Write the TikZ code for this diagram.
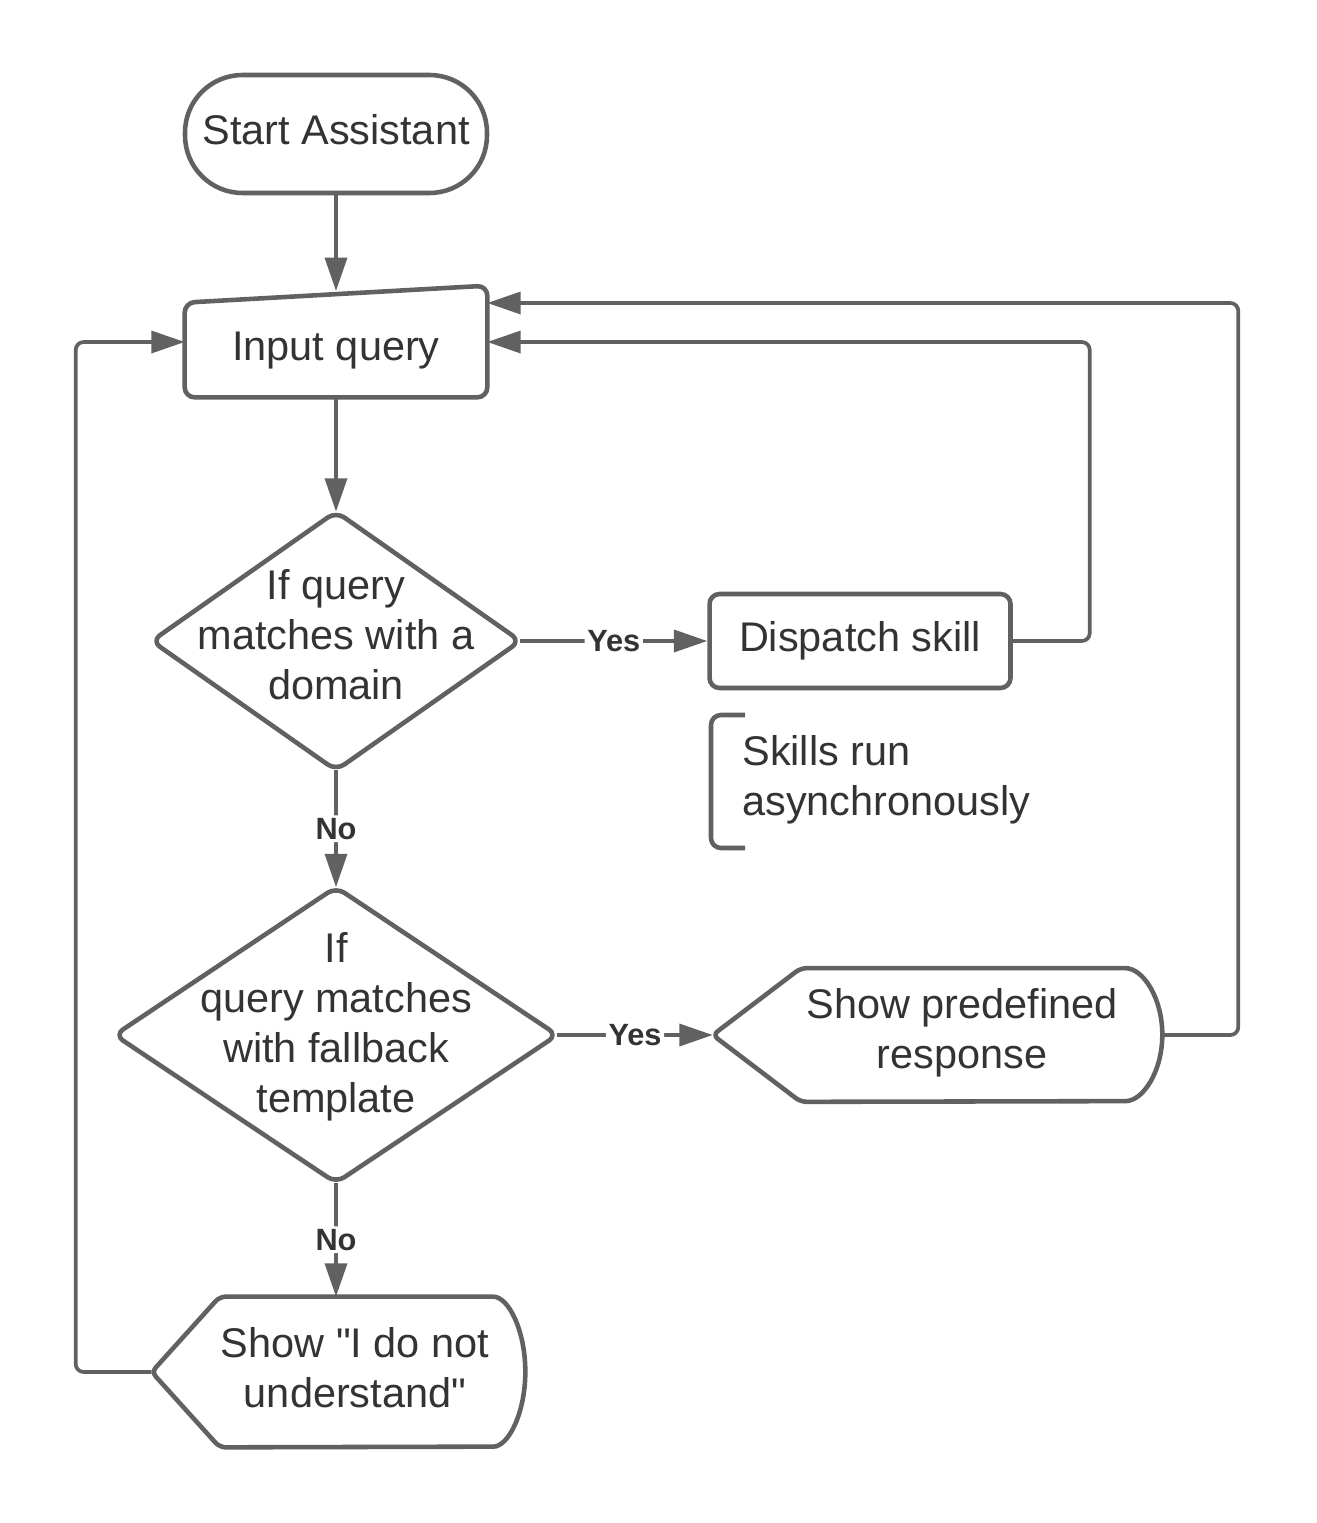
\documentclass[tikz,border=0pt]{standalone}
\usepackage{fontspec}
\setmainfont{Liberation Sans}[Ligatures=TeXOff]
\usetikzlibrary{arrows.meta,calc}
\definecolor{LineClr}{HTML}{616161}
\definecolor{TextClr}{HTML}{333333}

\begin{document}
\begin{tikzpicture}[x=0.02cm,y=-0.02cm,
  font=\fontsize{23.6}{28.5}\selectfont,text=TextClr,
  shapeline/.style={line width=2.6pt,draw=LineClr,line join=round},
  box/.style={inner sep=0pt,align=center},
  flow/.style={line width=2.1pt,draw=LineClr,rounded corners=0.16cm,-{Triangle[length=19pt,width=12.5pt]}},
  answer/.style={font=\fontsize{17.5}{20}\selectfont\bfseries,fill=white,inner sep=1.5pt}]

\useasboundingbox (0,0) rectangle (1316,1523);

\node (start) [box,draw=LineClr,line width=2.6pt,rounded corners=1.15cm,minimum width=6.04cm,minimum height=2.36cm] at (336,134) {};
\node (starttext) [box] at (336,130) {Start Assistant};

\node (in) [box,minimum width=6.04cm,minimum height=1.88cm] at (336,350) {};
\node (intext) [box] at (336,351) {Input query};
\draw[shapeline,rounded corners=0.2cm] (in.south west) -- (in.north west) -- ([yshift=0.34cm]in.north east) -- (in.south east) -- cycle;
\coordinate (intop) at (336,291);

\node (d1) [box,minimum width=7.36cm,minimum height=5.16cm] at (336,641) {};
\node (d1text) [box] at (336,635) {If query\\matches with a\\domain};
\draw[shapeline,rounded corners=0.2cm] (d1.north) -- (d1.east) -- (d1.south) -- (d1.west) -- cycle;

\node (disp) [box,draw=LineClr,line width=2.6pt,rounded corners=0.2cm,minimum width=6.02cm,minimum height=1.88cm] at (860,641) {Dispatch skill};

\node (note) [box,align=left,anchor=west] at (742,780) {Skills run\\asynchronously};
\draw[shapeline,rounded corners=0.2cm] (745,715) -- (711,715) -- (711,848) -- (745,848);

\node (d2) [box,minimum width=8.84cm,minimum height=5.9cm] at (336,1035) {};
\node (d2text) [box] at (336,1027) {If\\query matches\\with fallback\\template};
\draw[shapeline,rounded corners=0.2cm] (d2.north) -- (d2.east) -- (d2.south) -- (d2.west) -- cycle;

\node (pre) [box,minimum width=8.98cm,minimum height=2.66cm] at (937.5,1035) {};
\node (pretext) [box] at (962,1033) {Show predefined\\response};
\draw[shapeline,rounded corners=0.12cm] (pre.west) -- ([xshift=1.76cm]pre.north west) -- ([xshift=-0.86cm]pre.north east) arc[start angle=90,end angle=-90,x radius=0.86cm,y radius=1.33cm] -- ([xshift=1.76cm]pre.south west) -- cycle;

\node (dnu) [box,minimum width=7.46cm,minimum height=3cm] at (338.5,1372) {};
\node (dnutext) [box] at (355,1368) {Show "I do not\\understand"};
\draw[shapeline,rounded corners=0.12cm] (dnu.west) -- ([xshift=1.36cm]dnu.north west) -- ([xshift=-0.76cm]dnu.north east) arc[start angle=90,end angle=-90,x radius=0.76cm,y radius=1.5cm] -- ([xshift=1.36cm]dnu.south west) -- cycle;

\draw[flow] (start) -- (intop);
\draw[flow] (in.south) -- (d1.north);
\draw[flow] (d1.east) -- node[answer]{Yes} (disp.west);
\draw[flow] (disp.east) -- ++(77,0) |- ([yshift=0.16cm]in.east);
\draw[flow] (d1.south) -- node[answer]{No} (d2.north);
\draw[flow] (d2.east) -- node[answer]{Yes} (pre.west);
\draw[flow] (pre.east) -- ++(76,0) |- ([yshift=0.94cm]in.east);
\draw[flow] (d2.south) -- node[answer]{No} (d2.south |- dnu.north);
\draw[flow] (dnu.west) -- ++(-76,0) |- ([yshift=0.16cm]in.west);

\end{tikzpicture}
\end{document}
